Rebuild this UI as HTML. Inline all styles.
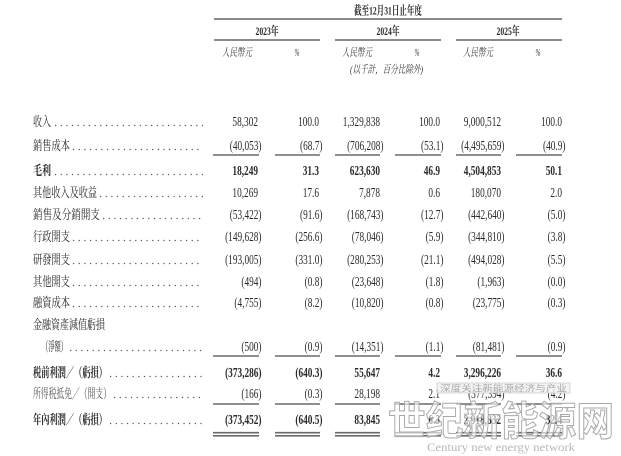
<!DOCTYPE html>
<html><head><meta charset="utf-8"><style>
html,body{margin:0;padding:0;background:#fff;}
svg{display:block;}
text{font-family:"Liberation Serif","Noto Serif CJK SC",serif;fill:#2a2a2a;}
.b{font-weight:bold;}
.n{font-size:13.3px;}
.l{font-size:13.3px;}
.h{font-size:12px;}
.i{font-style:italic;font-size:11px;fill:#333;}
.dots{stroke:#555;stroke-width:1.2;stroke-dasharray:1.2 4.45;}
.sl{stroke:#6a6a6a;stroke-width:1.6;}
.hl{stroke:#444;stroke-width:1.2;}
</style></head><body>
<svg width="621" height="456" viewBox="0 0 621 456" xmlns="http://www.w3.org/2000/svg">
<!-- header -->
<text class="h b" x="354" y="14.5" textLength="68" lengthAdjust="spacingAndGlyphs">截至12月31日止年度</text>
<line class="hl" x1="214" y1="19" x2="562" y2="19"/>
<text class="h b" x="255.5" y="35" textLength="23" lengthAdjust="spacingAndGlyphs">2023年</text>
<text class="h b" x="376.5" y="35" textLength="23" lengthAdjust="spacingAndGlyphs">2024年</text>
<text class="h b" x="496.5" y="35" textLength="23" lengthAdjust="spacingAndGlyphs">2025年</text>
<line class="hl" x1="214" y1="40" x2="320" y2="40"/>
<line class="hl" x1="335" y1="40" x2="441" y2="40"/>
<line class="hl" x1="456" y1="40" x2="562" y2="40"/>
<text class="i" x="222" y="56" textLength="30" lengthAdjust="spacingAndGlyphs">人民幣元</text>
<text class="i" x="294.5" y="56" textLength="5" lengthAdjust="spacingAndGlyphs">%</text>
<text class="i" x="342" y="56" textLength="30" lengthAdjust="spacingAndGlyphs">人民幣元</text>
<text class="i" x="414.5" y="56" textLength="5" lengthAdjust="spacingAndGlyphs">%</text>
<text class="i" x="463" y="56" textLength="30" lengthAdjust="spacingAndGlyphs">人民幣元</text>
<text class="i" x="535.5" y="56" textLength="5" lengthAdjust="spacingAndGlyphs">%</text>
<text class="i" x="350" y="73" textLength="73" lengthAdjust="spacingAndGlyphs">(以千計，百分比除外)</text>

<!-- labels -->
<text class="l" x="33" y="126" textLength="18" lengthAdjust="spacingAndGlyphs">收入</text>
<line class="dots" x1="55" y1="125.5" x2="203" y2="125.5"/>
<text class="l" x="33" y="150" textLength="37" lengthAdjust="spacingAndGlyphs">銷售成本</text>
<line class="dots" x1="73" y1="149.5" x2="203" y2="149.5"/>
<text class="l b" x="33" y="175" textLength="18" lengthAdjust="spacingAndGlyphs">毛利</text>
<line class="dots" x1="55" y1="174.5" x2="203" y2="174.5"/>
<text class="l" x="33" y="197" textLength="64" lengthAdjust="spacingAndGlyphs">其他收入及收益</text>
<line class="dots" x1="100" y1="196.5" x2="203" y2="196.5"/>
<text class="l" x="33" y="219" textLength="67" lengthAdjust="spacingAndGlyphs">銷售及分銷開支</text>
<line class="dots" x1="103" y1="218.5" x2="203" y2="218.5"/>
<text class="l" x="33" y="241" textLength="37" lengthAdjust="spacingAndGlyphs">行政開支</text>
<line class="dots" x1="73" y1="240.5" x2="203" y2="240.5"/>
<text class="l" x="33" y="264" textLength="37" lengthAdjust="spacingAndGlyphs">研發開支</text>
<line class="dots" x1="73" y1="263.5" x2="203" y2="263.5"/>
<text class="l" x="33" y="286" textLength="37" lengthAdjust="spacingAndGlyphs">其他開支</text>
<line class="dots" x1="73" y1="285.5" x2="203" y2="285.5"/>
<text class="l" x="33" y="307" textLength="37" lengthAdjust="spacingAndGlyphs">融資成本</text>
<line class="dots" x1="73" y1="306.5" x2="203" y2="306.5"/>
<text class="l" x="33" y="329" textLength="72" lengthAdjust="spacingAndGlyphs">金融資產減值虧損</text>
<text class="l" x="42" y="351" textLength="25" lengthAdjust="spacingAndGlyphs">（淨額）</text>
<line class="dots" x1="70" y1="350.5" x2="203" y2="350.5"/>
<text class="l b" x="33" y="377" textLength="74" lengthAdjust="spacingAndGlyphs">税前利潤／（虧損）</text>
<line class="dots" x1="110" y1="376.5" x2="203" y2="376.5"/>
<text class="l" x="33" y="398" textLength="78" lengthAdjust="spacingAndGlyphs" style="fill:#555">所得税抵免／（開支）</text>
<line class="dots" x1="114" y1="397.5" x2="203" y2="397.5"/>
<text class="l b" x="33" y="424" textLength="74" lengthAdjust="spacingAndGlyphs">年內利潤／（虧損）</text>
<line class="dots" x1="110" y1="423.5" x2="203" y2="423.5"/>

<!-- numbers -->
<g text-anchor="end">
<text class="n" transform="translate(258,126) scale(0.7,1)">58,302</text>
<text class="n" transform="translate(319,126) scale(0.7,1)">100.0</text>
<text class="n" transform="translate(380,126) scale(0.7,1)">1,329,838</text>
<text class="n" transform="translate(440,126) scale(0.7,1)">100.0</text>
<text class="n" transform="translate(501,126) scale(0.7,1)">9,000,512</text>
<text class="n" transform="translate(562,126) scale(0.7,1)">100.0</text>
<text class="n" transform="translate(261.5,150) scale(0.7,1)">(40,053)</text>
<text class="n" transform="translate(322.5,150) scale(0.7,1)">(68.7)</text>
<text class="n" transform="translate(383.5,150) scale(0.7,1)">(706,208)</text>
<text class="n" transform="translate(443.5,150) scale(0.7,1)">(53.1)</text>
<text class="n" transform="translate(504.5,150) scale(0.7,1)">(4,495,659)</text>
<text class="n" transform="translate(565.5,150) scale(0.7,1)">(40.9)</text>
<text class="n b" transform="translate(258,175) scale(0.7,1)">18,249</text>
<text class="n b" transform="translate(319,175) scale(0.7,1)">31.3</text>
<text class="n b" transform="translate(380,175) scale(0.7,1)">623,630</text>
<text class="n b" transform="translate(440,175) scale(0.7,1)">46.9</text>
<text class="n b" transform="translate(501,175) scale(0.7,1)">4,504,853</text>
<text class="n b" transform="translate(562,175) scale(0.7,1)">50.1</text>
<text class="n" transform="translate(258,197) scale(0.7,1)">10,269</text>
<text class="n" transform="translate(319,197) scale(0.7,1)">17.6</text>
<text class="n" transform="translate(380,197) scale(0.7,1)">7,878</text>
<text class="n" transform="translate(440,197) scale(0.7,1)">0.6</text>
<text class="n" transform="translate(501,197) scale(0.7,1)">180,070</text>
<text class="n" transform="translate(562,197) scale(0.7,1)">2.0</text>
<text class="n" transform="translate(261.5,219) scale(0.7,1)">(53,422)</text>
<text class="n" transform="translate(322.5,219) scale(0.7,1)">(91.6)</text>
<text class="n" transform="translate(383.5,219) scale(0.7,1)">(168,743)</text>
<text class="n" transform="translate(443.5,219) scale(0.7,1)">(12.7)</text>
<text class="n" transform="translate(504.5,219) scale(0.7,1)">(442,640)</text>
<text class="n" transform="translate(565.5,219) scale(0.7,1)">(5.0)</text>
<text class="n" transform="translate(261.5,241) scale(0.7,1)">(149,628)</text>
<text class="n" transform="translate(322.5,241) scale(0.7,1)">(256.6)</text>
<text class="n" transform="translate(383.5,241) scale(0.7,1)">(78,046)</text>
<text class="n" transform="translate(443.5,241) scale(0.7,1)">(5.9)</text>
<text class="n" transform="translate(504.5,241) scale(0.7,1)">(344,810)</text>
<text class="n" transform="translate(565.5,241) scale(0.7,1)">(3.8)</text>
<text class="n" transform="translate(261.5,264) scale(0.7,1)">(193,005)</text>
<text class="n" transform="translate(322.5,264) scale(0.7,1)">(331.0)</text>
<text class="n" transform="translate(383.5,264) scale(0.7,1)">(280,253)</text>
<text class="n" transform="translate(443.5,264) scale(0.7,1)">(21.1)</text>
<text class="n" transform="translate(504.5,264) scale(0.7,1)">(494,028)</text>
<text class="n" transform="translate(565.5,264) scale(0.7,1)">(5.5)</text>
<text class="n" transform="translate(261.5,286) scale(0.7,1)">(494)</text>
<text class="n" transform="translate(322.5,286) scale(0.7,1)">(0.8)</text>
<text class="n" transform="translate(383.5,286) scale(0.7,1)">(23,648)</text>
<text class="n" transform="translate(443.5,286) scale(0.7,1)">(1.8)</text>
<text class="n" transform="translate(504.5,286) scale(0.7,1)">(1,963)</text>
<text class="n" transform="translate(565.5,286) scale(0.7,1)">(0.0)</text>
<text class="n" transform="translate(261.5,307) scale(0.7,1)">(4,755)</text>
<text class="n" transform="translate(322.5,307) scale(0.7,1)">(8.2)</text>
<text class="n" transform="translate(383.5,307) scale(0.7,1)">(10,820)</text>
<text class="n" transform="translate(443.5,307) scale(0.7,1)">(0.8)</text>
<text class="n" transform="translate(504.5,307) scale(0.7,1)">(23,775)</text>
<text class="n" transform="translate(565.5,307) scale(0.7,1)">(0.3)</text>
<text class="n" transform="translate(261.5,351) scale(0.7,1)">(500)</text>
<text class="n" transform="translate(322.5,351) scale(0.7,1)">(0.9)</text>
<text class="n" transform="translate(383.5,351) scale(0.7,1)">(14,351)</text>
<text class="n" transform="translate(443.5,351) scale(0.7,1)">(1.1)</text>
<text class="n" transform="translate(504.5,351) scale(0.7,1)">(81,481)</text>
<text class="n" transform="translate(565.5,351) scale(0.7,1)">(0.9)</text>
<text class="n b" transform="translate(261.5,377) scale(0.7,1)">(373,286)</text>
<text class="n b" transform="translate(322.5,377) scale(0.7,1)">(640.3)</text>
<text class="n b" transform="translate(380,377) scale(0.7,1)">55,647</text>
<text class="n b" transform="translate(440,377) scale(0.7,1)">4.2</text>
<text class="n b" transform="translate(501,377) scale(0.7,1)">3,296,226</text>
<text class="n b" transform="translate(562,377) scale(0.7,1)">36.6</text>
<text class="n" transform="translate(261.5,398) scale(0.7,1)">(166)</text>
<text class="n" transform="translate(322.5,398) scale(0.7,1)">(0.3)</text>
<text class="n" transform="translate(380,398) scale(0.7,1)">28,198</text>
<text class="n" transform="translate(440,398) scale(0.7,1)">2.1</text>
<text class="n" transform="translate(504.5,398) scale(0.7,1)">(377,394)</text>
<text class="n" transform="translate(565.5,398) scale(0.7,1)">(4.2)</text>
<text class="n b" transform="translate(261.5,424) scale(0.7,1)">(373,452)</text>
<text class="n b" transform="translate(322.5,424) scale(0.7,1)">(640.5)</text>
<text class="n b" transform="translate(380,424) scale(0.7,1)">83,845</text>
<text class="n b" transform="translate(440,424) scale(0.7,1)">6.3</text>
<text class="n b" transform="translate(501,424) scale(0.7,1)">2,918,832</text>
<text class="n b" transform="translate(562,424) scale(0.7,1)">32.4</text>
</g>

<!-- subtotal lines -->
<g class="sl">
<line x1="213" y1="155" x2="259" y2="155"/><line x1="275" y1="155" x2="320" y2="155"/>
<line x1="335" y1="155" x2="380" y2="155"/><line x1="395" y1="155" x2="441" y2="155"/>
<line x1="456" y1="155" x2="501" y2="155"/><line x1="516" y1="155" x2="562" y2="155"/>
<line x1="213" y1="356" x2="259" y2="356"/><line x1="275" y1="356" x2="320" y2="356"/>
<line x1="335" y1="356" x2="380" y2="356"/><line x1="395" y1="356" x2="441" y2="356"/>
<line x1="456" y1="356" x2="501" y2="356"/><line x1="516" y1="356" x2="562" y2="356"/>
<line x1="213" y1="404" x2="259" y2="404"/><line x1="275" y1="404" x2="320" y2="404"/>
<line x1="335" y1="404" x2="380" y2="404"/><line x1="395" y1="404" x2="441" y2="404"/>
<line x1="456" y1="404" x2="501" y2="404"/><line x1="516" y1="404" x2="562" y2="404"/>
<line x1="213" y1="432.7" x2="259" y2="432.7"/><line x1="275" y1="432.7" x2="320" y2="432.7"/>
<line x1="335" y1="432.7" x2="380" y2="432.7"/><line x1="395" y1="432.7" x2="441" y2="432.7"/>
<line x1="456" y1="432.7" x2="501" y2="432.7"/><line x1="516" y1="432.7" x2="562" y2="432.7"/>
<line x1="213" y1="435.8" x2="259" y2="435.8"/><line x1="275" y1="435.8" x2="320" y2="435.8"/>
<line x1="335" y1="435.8" x2="380" y2="435.8"/><line x1="395" y1="435.8" x2="441" y2="435.8"/>
<line x1="456" y1="435.8" x2="501" y2="435.8"/><line x1="516" y1="435.8" x2="562" y2="435.8"/>
</g>

<!-- watermark -->
<rect x="437" y="383" width="133" height="10" fill="#f2f2f2" fill-opacity="0.85" stroke="#cfcfcf" stroke-width="0.8"/>
<text x="440" y="391.5" textLength="127" lengthAdjust="spacingAndGlyphs" style="font-family:'Noto Sans CJK SC',sans-serif;font-size:9px;fill:#aaa;">深度关注新能源经济与产业</text>
<text x="388" y="435" textLength="226" lengthAdjust="spacingAndGlyphs" style="font-family:'Noto Sans CJK SC',sans-serif;font-weight:bold;font-size:40px;fill:#fff;fill-opacity:0.6;stroke:#a8a8a8;stroke-width:1;">世纪新能源网</text>
<text x="427" y="451" textLength="148" lengthAdjust="spacingAndGlyphs" style="font-size:12px;fill:#b8b8b8;">Century new energy network</text>
</svg>
</body></html>
